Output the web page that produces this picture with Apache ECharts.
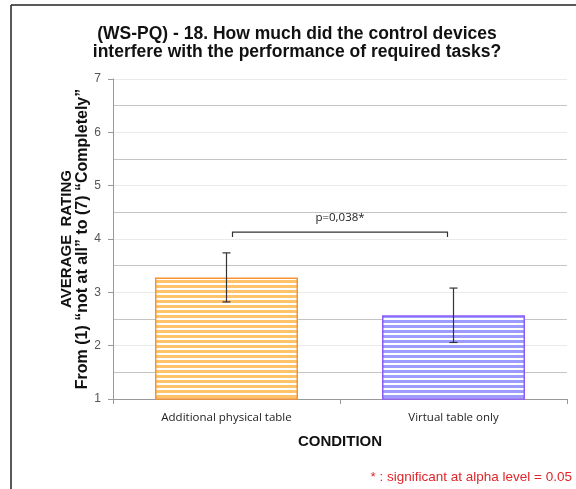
<!DOCTYPE html>
<html><head><meta charset="utf-8">
<script src="https://cdn.jsdelivr.net/npm/echarts@6/dist/echarts.min.js"></script>
<style>html,body{margin:0;padding:0;background:#fff;}#c{width:576px;height:489px;}</style>
</head><body><div id="c"></div>
<script>
const categories = ['Additional physical table', 'Virtual table only'];
const means = [3.28, 2.57];
const errors = [0.46, 0.51];
const yTicks = [1, 7, 1];           // min, max, interval
const bracket = [0, 1, 4.13];        // from category, to category, level
const pLabel = 'p=0,038*';

function stripes(fg) {
  const c = document.createElement('canvas');
  c.width = 4; c.height = 5;
  const g = c.getContext('2d');
  g.fillStyle = '#ffffff'; g.fillRect(0, 0, 4, 5);
  g.fillStyle = fg; g.fillRect(0, 0, 4, 3);
  return { image: c, repeat: 'repeat' };
}
const fills = [stripes('#ffc36b'), stripes('#9d9dff')];
const borders = ['#f7922e', '#8b5cf6'];

const chart = echarts.init(document.getElementById('c'));
chart.setOption({
  animation: false,
  title: {
    text: '(WS-PQ) - 18. How much did the control devices\ninterfere with the performance of required tasks?',
    left: 292, top: 20, textAlign: 'center',
    textStyle: { fontFamily: 'Liberation Sans', fontSize: 17.5, fontWeight: 'bold', color: '#111', lineHeight: 18 }
  },
  grid: { left: 113, right: 9, top: 79, bottom: 90 },
  xAxis: {
    type: 'category', data: categories,
    name: 'CONDITION', nameLocation: 'middle', nameGap: 35,
    nameTextStyle: { fontFamily: 'Liberation Sans', fontSize: 15, fontWeight: 'bold', color: '#111' },
    axisLine: { lineStyle: { color: '#999' } },
    axisTick: { show: true, alignWithLabel: false, length: 5, lineStyle: { color: '#999' } },
    axisLabel: { fontFamily: 'Open Sans', fontSize: 11.5, color: '#222', margin: 13 }
  },
  yAxis: {
    type: 'value', min: yTicks[0], max: yTicks[1], interval: yTicks[2],
    name: '{a|AVERAGE  RATING}\n{b|From (1) \u201cnot at all\u201d to (7) \u201cCompletely\u201d}',
    nameLocation: 'middle', nameGap: 22, nameRotate: 90, nameMoveOverlap: false,
    nameTextStyle: {
      fontFamily: 'Liberation Sans', fontWeight: 'bold', color: '#111',
      rich: {
        a: { fontFamily: 'Liberation Sans', fontSize: 15, fontWeight: 'bold', color: '#111', lineHeight: 16 },
        b: { fontFamily: 'Liberation Sans', fontSize: 16, fontWeight: 'bold', color: '#111', lineHeight: 16 }
      }
    },
    axisLine: { show: true, lineStyle: { color: '#999' } },
    axisTick: { show: true, inside: false, length: 5, lineStyle: { color: '#999' } },
    axisLabel: { fontFamily: 'Liberation Sans', fontSize: 12, color: '#555', margin: 12 },
    splitLine: { show: true, lineStyle: { color: '#eaeaea', width: 1 } },
    minorTick: { show: false, splitNumber: 2 },
    minorSplitLine: { show: true, lineStyle: { color: '#c4c4c4', width: 1 } }
  },
  series: [
    {
      type: 'bar', barWidth: '63%',
      data: means.map((v, i) => ({ value: v, itemStyle: { color: fills[i], borderColor: borders[i], borderWidth: 1.5 } })),
      z: 2
    },
    {
      type: 'custom', z: 5,
      data: means.map((m, i) => [i, m - errors[i], m + errors[i]]),
      renderItem: function (params, api) {
        const lo = api.coord([api.value(0), api.value(1)]);
        const hi = api.coord([api.value(0), api.value(2)]);
        const w = 4;
        const st = { stroke: '#333', lineWidth: 1.2 };
        return { type: 'group', children: [
          { type: 'line', shape: { x1: hi[0], y1: hi[1], x2: lo[0], y2: lo[1] }, style: st },
          { type: 'line', shape: { x1: hi[0] - w, y1: hi[1], x2: hi[0] + w, y2: hi[1] }, style: st },
          { type: 'line', shape: { x1: lo[0] - w, y1: lo[1], x2: lo[0] + w, y2: lo[1] }, style: st }
        ]};
      }
    },
    {
      type: 'custom', z: 5,
      data: [bracket],
      renderItem: function (params, api) {
        const a = api.coord([api.value(0), api.value(2)]);
        const b = api.coord([api.value(1), api.value(2)]);
        const x1 = a[0] + 6, x2 = b[0] - 6, y = a[1];
        return { type: 'group', children: [
          { type: 'polyline', shape: { points: [[x1, y + 5], [x1, y], [x2, y], [x2, y + 5]] }, style: { stroke: '#333', lineWidth: 1.2, fill: null } },
          { type: 'text', style: { text: pLabel, x: (x1 + x2) / 2, y: y - 8, align: 'center', verticalAlign: 'bottom', font: '11.5px "Open Sans"', fill: '#222' } }
        ]};
      }
    }
  ],
  graphic: [
    { type: 'line', shape: { x1: 11, y1: 5, x2: 576, y2: 5 }, style: { stroke: '#222', lineWidth: 1.5 } },
    { type: 'line', shape: { x1: 11, y1: 5, x2: 11, y2: 489 }, style: { stroke: '#222', lineWidth: 1.5 } },
    { type: 'text', right: 4, top: 470, style: { text: '* : significant at alpha level = 0.05', font: '13.5px "Liberation Sans"', fill: '#e0262b' } }
  ]
});
</script></body></html>
